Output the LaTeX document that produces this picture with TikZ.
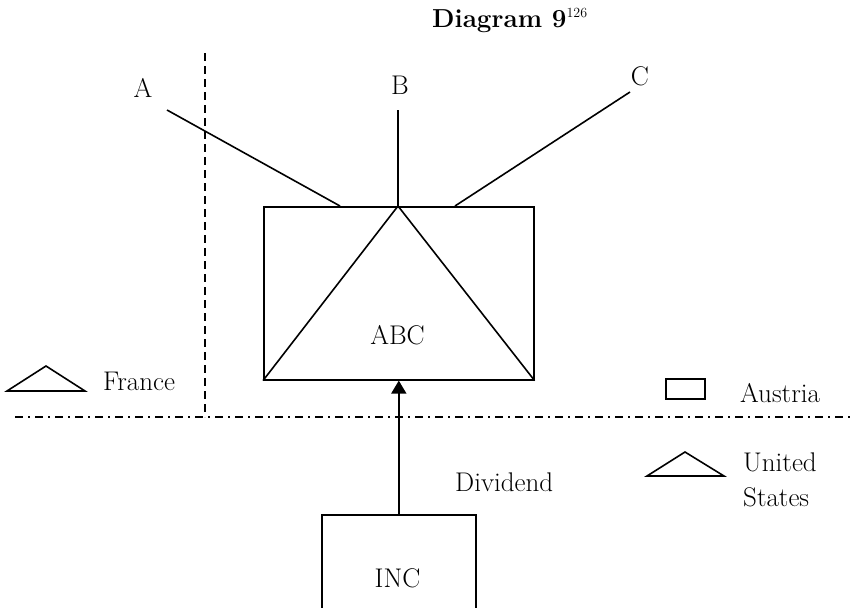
\documentclass[tikz,border=0pt]{standalone}
\usepackage{fontspec}
\usetikzlibrary{arrows.meta}
\begin{document}
\begin{tikzpicture}[x=1pt,y=-1pt,
  line/.style={line width=1.6pt},
  lbl/.style={font=\fontsize{27}{32}\selectfont, inner sep=0pt, anchor=base},
  lblw/.style={lbl, anchor=base west},
  box/.style={draw, line width=1.6pt, inner sep=0pt}]
\useasboundingbox (0,0) rectangle (852,608);
\clip (0,0) rectangle (852,608);
% title
\node[inner sep=0pt, anchor=base west, font=\fontsize{26}{30}\selectfont\bfseries] (title) at (432,27) {Diagram 9\textsuperscript{\mdseries\fontsize{14}{16}\selectfont 126}};
% separators
\coordinate (vtop) at (205,53);
\coordinate (vbot) at (205,417);
\draw[line, dash pattern=on 8pt off 5pt] (vtop) -- (vbot);
\coordinate (hl) at (15,417);
\coordinate (hr) at (852,417);
\draw[line, line width=1.3pt, dash pattern=on 8pt off 5pt on 2pt off 5pt] (hl) -- (hr);
% ABC box
\node[box, minimum width=270pt, minimum height=173pt, anchor=north west] (abc) at (263,206) {};
\node[lbl] (abct) at (397.5,344) {ABC};
\coordinate (apex) at (398,206);
\draw[line] (abc.south west) -- (apex) -- (abc.south east);
% shareholders
\node[lbl] (a) at (143,97) {A};
\node[lbl] (b) at (400,94) {B};
\node[lbl] (c) at (640,85) {C};
\coordinate (aend) at (167,110);
\coordinate (bend) at (398,110);
\coordinate (cend) at (630,92);
\coordinate (astart) at (340,206);
\coordinate (cstart) at (455,206);
\draw[line] (astart) -- (aend);
\draw[line] (apex) -- (bend);
\draw[line] (cstart) -- (cend);
% INC box
\node[box, minimum width=154pt, minimum height=120pt, anchor=north west] (inc) at (321,514) {};
\node[lbl] (inct) at (397.5,587) {INC};
\draw[line, -{Triangle[length=13pt,width=15pt]}] (inc.north) -- (abc.south);
\node[lblw] (div) at (455,491) {Dividend};
% legend
\coordinate (fr1) at (7,391);
\coordinate (fr2) at (46,366);
\coordinate (fr3) at (85,391);
\draw[line] (fr1) -- (fr2) -- (fr3) -- cycle;
\node[lblw] (france) at (103,390) {France};
\node[draw, line width=1.6pt, minimum width=39pt, minimum height=20pt, inner sep=0pt] (aurect) at (685.5,389) {};
\node[lblw] (austria) at (740,402) {Austria};
\coordinate (us1) at (647,476);
\coordinate (us2) at (685,452);
\coordinate (us3) at (724,476);
\draw[line] (us1) -- (us2) -- (us3) -- cycle;
\node[lblw] (united) at (743,471) {United};
\node[lblw] (states) at (743,506) {States};
\end{tikzpicture}
\end{document}
